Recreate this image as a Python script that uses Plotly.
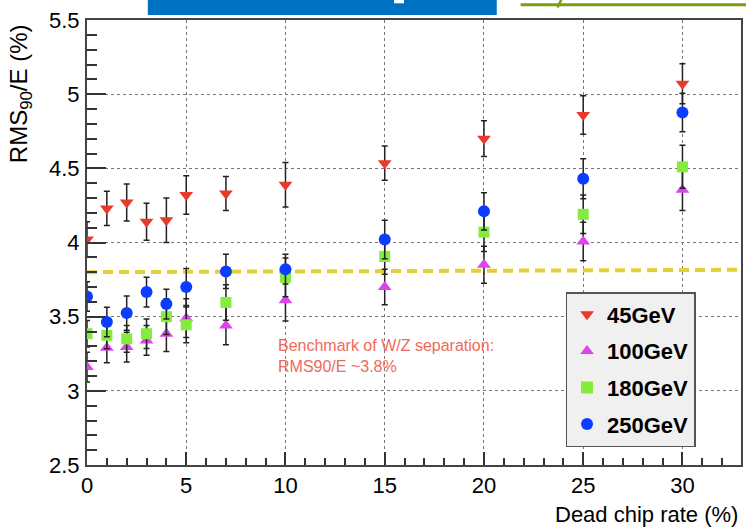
import plotly.graph_objects as go

# ---- data ----
dead_rate = [0, 1, 2, 3, 4, 5, 7, 10, 15, 20, 25, 30]

rms_45 = [4.02, 4.23, 4.27, 4.14, 4.15, 4.32, 4.33, 4.39, 4.535, 4.70, 4.86, 5.07]
err_45 = [0.12, 0.115, 0.125, 0.125, 0.15, 0.13, 0.115, 0.15, 0.115, 0.12, 0.13, 0.135]

rms_100 = [3.16, 3.29, 3.295, 3.34, 3.385, 3.49, 3.44, 3.61, 3.70, 3.85, 4.007, 4.355]
err_100 = [0.10, 0.10, 0.10, 0.10, 0.12, 0.13, 0.13, 0.14, 0.12, 0.125, 0.13, 0.14]

rms_180 = [3.385, 3.374, 3.35, 3.385, 3.50, 3.445, 3.596, 3.765, 3.906, 4.07, 4.19, 4.51]
err_180 = [0.09, 0.09, 0.09, 0.10, 0.12, 0.12, 0.12, 0.13, 0.12, 0.13, 0.13, 0.145]

rms_250 = [3.636, 3.464, 3.524, 3.666, 3.585, 3.70, 3.805, 3.82, 4.02, 4.21, 4.43, 4.876]
err_250 = [0.10, 0.10, 0.115, 0.10, 0.10, 0.125, 0.115, 0.10, 0.13, 0.125, 0.135, 0.13]

series_names = ["45GeV", "100GeV", "180GeV", "250GeV"]

benchmark_x = [0, 33.1]
benchmark_y = [3.80, 3.816]
benchmark_text = "Benchmark of W/Z separation:<br>RMS90/E ~3.8%"

x_title = "Dead chip rate (%)"
y_title = "RMS<sub>90</sub>/E (%)"

FONT = "Liberation Sans, Arial, Helvetica, sans-serif"

styles = [
    dict(symbol="triangle-down", color="#e8392b", size=12),
    dict(symbol="triangle-up", color="#dd44f0", size=12),
    dict(symbol="square", color="#84ec3c", size=11),
    dict(symbol="circle", color="#0a3dff", size=12),
]

fig = go.Figure()
for name, ys, es, st in zip(series_names, [rms_45, rms_100, rms_180, rms_250],
                            [err_45, err_100, err_180, err_250], styles):
    fig.add_trace(go.Scatter(
        x=dead_rate, y=ys, mode="markers", name=name, legendgroup=name,
        marker=dict(symbol=st["symbol"], color=st["color"], size=st["size"],
                    line=dict(width=0)),
        error_y=dict(type="data", array=es, visible=True, color="#222",
                     thickness=1.5, width=3),
    ))

W, H = 746, 531
L, R, T, B = 87, 3, 20, 66
pw, ph = W - L - R, H - T - B


def px_x(p):
    return (p - L) / pw


def px_y(p):
    return (H - B - p) / ph


shapes = [
    # benchmark line
    dict(type="line", xref="x", yref="y", x0=benchmark_x[0], x1=benchmark_x[1],
         y0=benchmark_y[0], y1=benchmark_y[1], layer="between",
         line=dict(color="#e6cf35", width=4, dash="10px,6px")),
    # slide remnants at top
    dict(type="rect", xref="paper", yref="paper", x0=px_x(148), x1=px_x(498),
         y0=px_y(15), y1=px_y(-2), fillcolor="#0070c0", line=dict(width=0)),
    dict(type="rect", xref="paper", yref="paper", x0=px_x(395), x1=px_x(405),
         y0=px_y(3.3), y1=px_y(-2), fillcolor="white", line=dict(width=0)),
    dict(type="line", xref="paper", yref="paper", x0=px_x(522), x1=px_x(748),
         y0=px_y(4.7), y1=px_y(4.7), line=dict(color="#7a9e0c", width=3)),
    dict(type="line", xref="paper", yref="paper", x0=px_x(559), x1=px_x(563),
         y0=px_y(7.5), y1=px_y(-1), line=dict(color="#7a9e0c", width=2.5)),
]

annotations = [
    dict(text=benchmark_text, xref="x", yref="y", x=9.5, y=3.236,
         xanchor="left", yanchor="middle", align="left", showarrow=False,
         font=dict(family=FONT, size=16, color="#ee6a5a")),
    dict(text=x_title, xref="paper", yref="paper", x=px_x(742), y=px_y(529),
         xanchor="right", yanchor="bottom", showarrow=False,
         font=dict(family=FONT, size=22, color="black")),
    dict(text=y_title, xref="paper", yref="paper", x=px_x(38), y=px_y(22),
         xanchor="right", yanchor="top", textangle=-90, showarrow=False,
         font=dict(family=FONT, size=24, color="black")),
]

axis_common = dict(
    showline=True, linecolor="#444", linewidth=2, mirror=True,
    ticks="inside", tickcolor="#333", tickwidth=1.5,
    showgrid=True, gridcolor="#777", griddash="dot", gridwidth=1,
    zeroline=False,
    tickfont=dict(family=FONT, size=22, color="black"),
)

fig.update_layout(
    width=W, height=H,
    margin=dict(l=L, r=R, t=T, b=B, pad=0),
    paper_bgcolor="white", plot_bgcolor="white",
    font=dict(family=FONT, color="black"),
    showlegend=True,
    legend=dict(
        x=px_x(567), y=px_y(292), xanchor="left", yanchor="top",
        bgcolor="#f0f0f0", bordercolor="#555", borderwidth=1.5,
        font=dict(family=FONT, size=22, color="black", weight="bold"),
        tracegroupgap=5, itemsizing="constant",
    ),
    shapes=shapes,
    annotations=annotations,
    xaxis=dict(range=[0, 32.95], tickmode="linear", tick0=0, dtick=5,
               ticklen=13, ticklabelstandoff=0,
               minor=dict(dtick=1, ticks="inside", ticklen=7, tickcolor="#333",
                          showgrid=False),
               **axis_common),
    yaxis=dict(range=[2.5, 5.5], tickmode="linear", tick0=2.5, dtick=0.5,
               ticklen=19, ticklabelstandoff=1,
               minor=dict(dtick=0.1, ticks="inside", ticklen=10, tickcolor="#333",
                          showgrid=False),
               **axis_common),
)

fig.write_html("out.html", config={"displayModeBar": False},
               post_script="document.body.style.margin='0';")
